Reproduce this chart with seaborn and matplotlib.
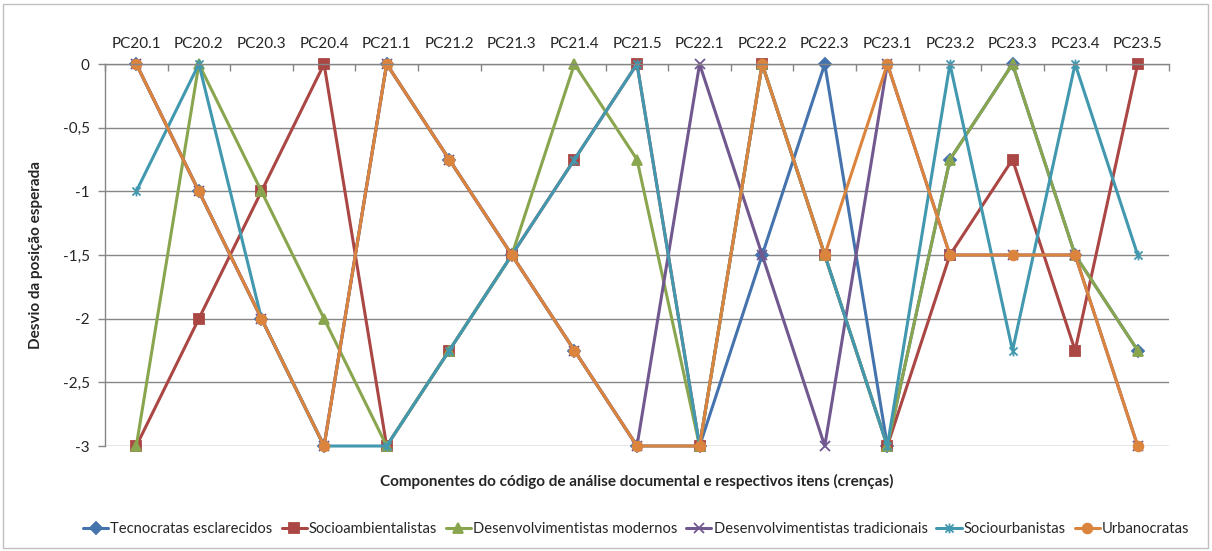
import numpy as np
import matplotlib
matplotlib.use("Agg")
import matplotlib.pyplot as plt
import seaborn as sns
from matplotlib.path import Path
from matplotlib.patches import Rectangle

itens = ["PC20.1", "PC20.2", "PC20.3", "PC20.4",
         "PC21.1", "PC21.2", "PC21.3", "PC21.4", "PC21.5",
         "PC22.1", "PC22.2", "PC22.3",
         "PC23.1", "PC23.2", "PC23.3", "PC23.4", "PC23.5"]

tecnocratas = [0, -1, -2, -3, 0, -0.75, -1.5, -2.25, -3, -3, -1.5, 0, -3, -0.75, 0, -1.5, -2.25]
socioambientalistas = [-3, -2, -1, 0, -3, -2.25, -1.5, -0.75, 0, -3, 0, -1.5, -3, -1.5, -0.75, -2.25, 0]
desenv_modernos = [-3, 0, -1, -2, -3, -2.25, -1.5, 0, -0.75, -3, 0, -1.5, -3, -0.75, 0, -1.5, -2.25]
desenv_tradicionais = [0, -1, -2, -3, 0, -0.75, -1.5, -2.25, -3, 0, -1.5, -3, 0, -1.5, -1.5, -1.5, -3]
sociourbanistas = [-1, 0, -2, -3, -3, -2.25, -1.5, -0.75, 0, -3, 0, -1.5, -3, 0, -2.25, 0, -1.5]
urbanocratas = [0, -1, -2, -3, 0, -0.75, -1.5, -2.25, -3, -3, 0, -1.5, 0, -1.5, -1.5, -1.5, -3]

y_ticks = [0, -0.5, -1, -1.5, -2, -2.5, -3]
y_labels = ["0", "-0,5", "-1", "-1,5", "-2", "-2,5", "-3"]

# Excel-like "star" marker: an x with a vertical bar
star = Path([(-1, -1), (1, 1), (-1, 1), (1, -1), (0, -1.2), (0, 1.2)],
            [Path.MOVETO, Path.LINETO, Path.MOVETO, Path.LINETO, Path.MOVETO, Path.LINETO])

series = [
    ("Tecnocratas esclarecidos", tecnocratas, "#4573AD", "D", 6.5),
    ("Socioambientalistas", socioambientalistas, "#AA4643", "s", 6.5),
    ("Desenvolvimentistas modernos", desenv_modernos, "#89A54E", "^", 7.5),
    ("Desenvolvimentistas tradicionais", desenv_tradicionais, "#71588F", "x", 7),
    ("Sociourbanistas", sociourbanistas, "#4198AF", star, 7),
    ("Urbanocratas", urbanocratas, "#DB843D", "o", 7),
]

sns.set_theme(style="white")
plt.rcParams["font.family"] = ["Lato", "DejaVu Sans"]

fig = plt.figure(figsize=(12.12, 5.51), dpi=100)
ax = fig.add_axes([105 / 1212, 1 - 446 / 551, 1064 / 1212, 382 / 551])

pos = np.arange(len(itens))
for nome, vals, cor, mk, ms in series:
    sns.lineplot(x=pos, y=vals, ax=ax, color=cor, marker=mk, markersize=ms,
                 markeredgecolor=cor, markerfacecolor=cor, markeredgewidth=1.3,
                 linewidth=2.2, label=nome, legend=False, clip_on=False)

ax.set_xlim(-0.5, len(itens) - 0.5)
ax.set_ylim(-3, 0)
ax.xaxis.tick_top()
ax.set_xticks(pos)
ax.set_xticklabels(itens, fontsize=11)
ax.set_xticks(np.arange(len(itens) + 1) - 0.5, minor=True)
ax.tick_params(axis="x", which="major", length=0, pad=9)
ax.tick_params(axis="x", which="minor", length=5, direction="in", color="#868686", width=1)
ax.set_yticks(y_ticks)
ax.set_yticklabels(y_labels, fontsize=11)
ax.tick_params(axis="y", length=5, direction="out", color="#868686", width=1, left=True, pad=6)

ax.grid(axis="y", color="#868686", linewidth=1)
ax.grid(axis="x", visible=False)
ax.set_axisbelow(True)
for s in ["right", "bottom"]:
    ax.spines[s].set_visible(False)
for s in ["left", "top"]:
    ax.spines[s].set_color("#868686")
    ax.spines[s].set_linewidth(1)

ax.set_ylabel("Desvio da posição esperada", fontsize=11, fontweight="bold", labelpad=14)
ax.set_xlabel("")
fig.text(0.5255, 1 - 481 / 551, "Componentes do código de análise documental e respectivos itens (crenças)",
         ha="center", va="center", fontsize=11, fontweight="bold")

handles, labels = ax.get_legend_handles_labels()
fig.legend(handles, labels, loc="center", bbox_to_anchor=(0.525, 1 - 529 / 551), ncol=6,
           frameon=False, fontsize=10.6, handlelength=1.7, handletextpad=0.15, columnspacing=0.6)

fig.patches.append(Rectangle((3 / 1212, 3 / 551), 1 - 7 / 1212, 1 - 7 / 551,
                             transform=fig.transFigure, fill=False,
                             edgecolor="#BFBFBF", linewidth=1))

fig.savefig("out.png", dpi=100)
